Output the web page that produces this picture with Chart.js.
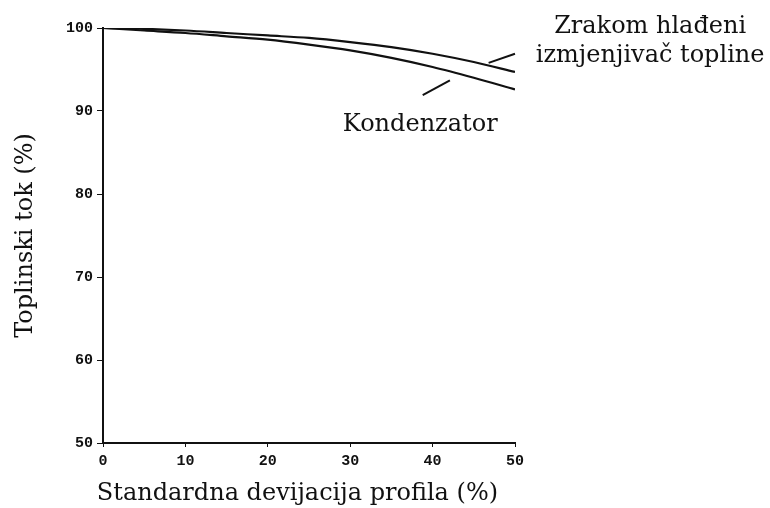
<!DOCTYPE html>
<html>
<head>
<meta charset="utf-8">
<script src="https://cdn.jsdelivr.net/npm/chart.js@4"></script>
<style>
  html, body { margin: 0; padding: 0; background: #fff; }
  #wrap { width: 770px; height: 508px; }
</style>
</head>
<body>
<div id="wrap"><canvas id="chart" width="770" height="508"></canvas></div>
<script>
// --- data ---
const xValues = [0, 5, 10, 15, 20, 25, 30, 35, 40, 45, 50];
const zrakomValues = [100, 99.9, 99.7, 99.4, 99.1, 98.8, 98.3, 97.7, 96.9, 95.9, 94.7];
const kondenzatorValues = [100, 99.7, 99.4, 99.0, 98.6, 98.0, 97.3, 96.4, 95.3, 94.0, 92.6];
const xTicks = [0, 10, 20, 30, 40, 50];
const yTicks = [50, 60, 70, 80, 90, 100];

// leader lines & labels, in data units
const leaders = [
  { from: [46.8, 95.8], to: [50.0, 96.9] },
  { from: [38.8, 91.9], to: [42.1, 93.7] }
];
const labels = [
  { text: "Zrakom hlađeni", x: 66.4, y: 100.2 },
  { text: "izmjenjivač topline", x: 66.4, y: 96.6 },
  { text: "Kondenzator", x: 38.5, y: 88.4 },
  { text: "Standardna devijacija profila (%)", x: 23.6, y: 43.9 }
];

const serif = "'DejaVu Serif', serif";
const tickFont = { family: "'Liberation Mono', monospace", size: 15, weight: "bold" };

const toPoints = arr => arr.map((v, i) => ({ x: xValues[i], y: v }));

// crtanje oznaka i linija-vodiča
const annotPlugin = {
  id: "annot",
  afterDatasetsDraw(chart) {
    const { ctx, scales: { x, y } } = chart;
    ctx.save();
    ctx.strokeStyle = "#111";
    ctx.lineWidth = 2;
    leaders.forEach(l => {
      ctx.beginPath();
      ctx.moveTo(x.getPixelForValue(l.from[0]), y.getPixelForValue(l.from[1]));
      ctx.lineTo(x.getPixelForValue(l.to[0]), y.getPixelForValue(l.to[1]));
      ctx.stroke();
    });
    ctx.fillStyle = "#111";
    ctx.font = "24px " + serif;
    ctx.textAlign = "center";
    ctx.textBaseline = "middle";
    labels.forEach(t => {
      ctx.fillText(t.text, x.getPixelForValue(t.x), y.getPixelForValue(t.y));
    });
    ctx.restore();
  }
};

new Chart(document.getElementById("chart"), {
  type: "line",
  data: {
    datasets: [
      { label: "Zrakom hlađeni izmjenjivač topline", data: toPoints(zrakomValues),
        borderColor: "#111", borderWidth: 2.2, pointRadius: 0, cubicInterpolationMode: "monotone" },
      { label: "Kondenzator", data: toPoints(kondenzatorValues),
        borderColor: "#111", borderWidth: 2.2, pointRadius: 0, cubicInterpolationMode: "monotone" }
    ]
  },
  options: {
    responsive: false,
    animation: false,
    layout: { padding: { left: 0, right: 255, top: 28, bottom: 0 } },
    plugins: { legend: { display: false }, tooltip: { enabled: false } },
    scales: {
      x: {
        type: "linear", min: 0, max: 50,
        afterBuildTicks: s => { s.ticks = xTicks.map(v => ({ value: v })); },
        afterFit: s => { s.height = 65; },
        grid: { drawOnChartArea: false, drawTicks: true, tickLength: 4, color: "#111" },
        border: { color: "#111", width: 2 },
        ticks: { color: "#111", font: tickFont, padding: 5, maxRotation: 0 },
        title: { display: false }
      },
      y: {
        type: "linear", min: 50, max: 100,
        afterBuildTicks: s => { s.ticks = yTicks.map(v => ({ value: v })); },
        afterFit: s => { s.width = 103; },
        grid: { drawOnChartArea: false, drawTicks: true, tickLength: 6, color: "#111" },
        border: { color: "#111", width: 2 },
        ticks: { color: "#111", font: tickFont, padding: 4 },
        title: { display: true, text: "Toplinski tok (%)", color: "#111",
                 font: { family: serif, size: 24 }, padding: { top: 11, bottom: 0 } }
      }
    }
  },
  plugins: [annotPlugin]
});
</script>
</body>
</html>
